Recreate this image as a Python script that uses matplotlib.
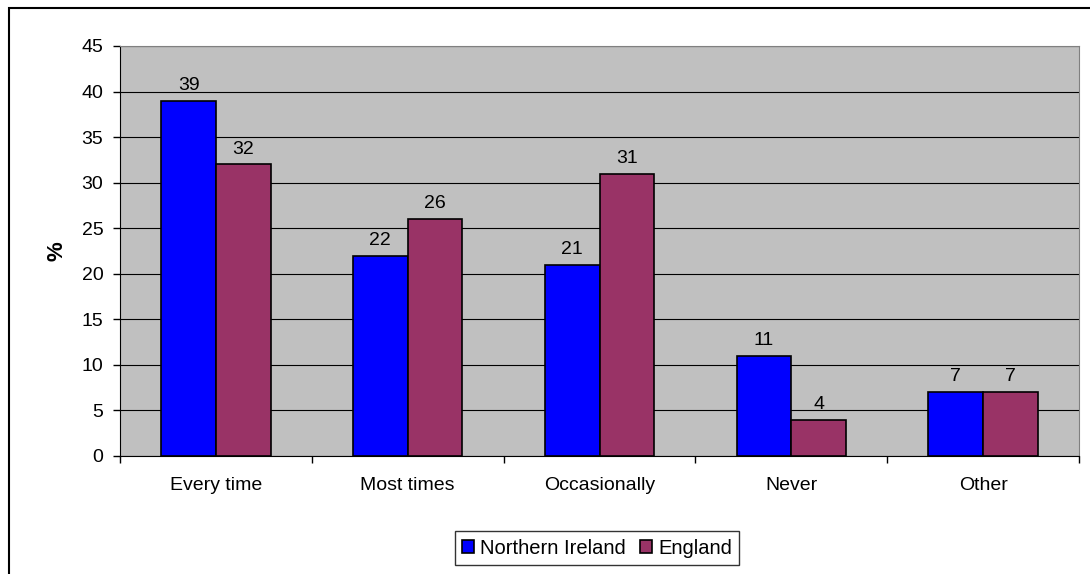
import matplotlib
matplotlib.use('Agg')
import matplotlib.pyplot as plt
import numpy as np
from matplotlib.patches import Rectangle

categories = ['Every time', 'Most times', 'Occasionally', 'Never', 'Other']
northern_ireland = [39, 22, 21, 11, 7]
england = [32, 26, 31, 4, 7]
series_names = ['Northern Ireland', 'England']
yticks = [0, 5, 10, 15, 20, 25, 30, 35, 40, 45]

plt.rcParams['font.family'] = ['Liberation Sans', 'DejaVu Sans']

fig = plt.figure(figsize=(10.9, 5.74), dpi=100)
ax = fig.add_axes([120/1090, 1-456/574, 959/1090, 410/574])

# outer chart frame
fig.patches.append(Rectangle((9/1090, -0.1), 1.2, 1.1 - 8/574, transform=fig.transFigure,
                             fill=False, edgecolor='black', linewidth=1.5))

x = np.arange(len(categories))
w = 0.285
b1 = ax.bar(x - w/2, northern_ireland, w, color='#0000FF', edgecolor='black', linewidth=1.2,
            label=series_names[0], zorder=3)
b2 = ax.bar(x + w/2, england, w, color='#993366', edgecolor='black', linewidth=1.2,
            label=series_names[1], zorder=3)
ax.bar_label(b1, padding=5, fontsize=14)
ax.bar_label(b2, padding=5, fontsize=14)

ax.set_facecolor('#C0C0C0')
ax.set_xlim(-0.5, len(categories) - 0.5)
ax.set_ylim(0, 45)
ax.set_yticks(yticks)
ax.tick_params(axis='y', labelsize=14, length=5, width=1, direction='out', pad=7)
ax.yaxis.grid(True, color='black', linewidth=0.8, zorder=0)
ax.set_axisbelow(True)

ax.set_xticks(x)
ax.set_xticklabels(categories, fontsize=14)
ax.tick_params(axis='x', length=0, pad=15)
ax.set_xticks(np.arange(len(categories) + 1) - 0.5, minor=True)
ax.tick_params(axis='x', which='minor', length=5, width=1, direction='out')

for s in ['top', 'right']:
    ax.spines[s].set_color('#808080')
for s in ['left', 'bottom']:
    ax.spines[s].set_color('black')

ax.set_ylabel('%', fontsize=16, fontweight='bold', labelpad=10)

fig.legend(loc='center', bbox_to_anchor=(597/1090, 1-548/574), ncol=2, fontsize=14.5,
           frameon=True, fancybox=False, edgecolor='black', handlelength=0.6,
           handleheight=0.6, handletextpad=0.3, columnspacing=0.7, borderpad=0.35)

fig.savefig('out.png', dpi=100)
